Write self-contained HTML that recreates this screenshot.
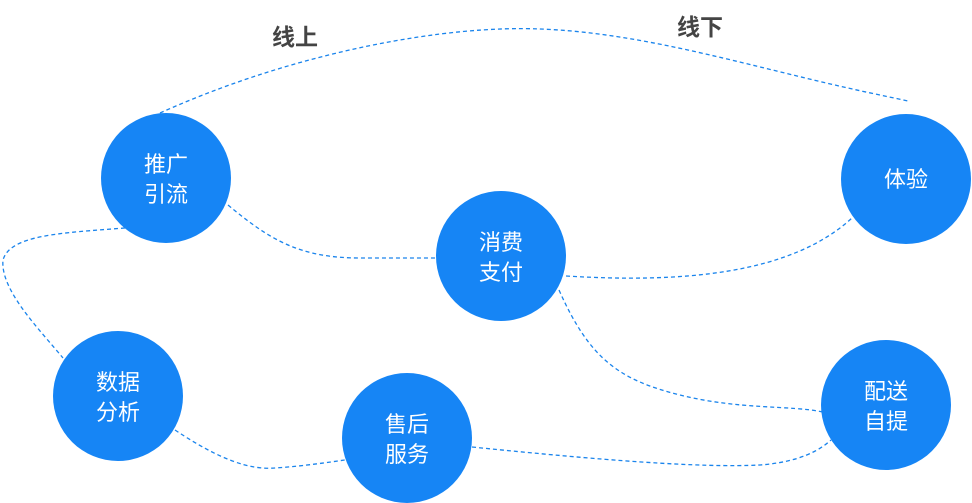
<!DOCTYPE html>
<html><head><meta charset="utf-8"><style>
html,body{margin:0;padding:0;background:#fff;}
body{width:972px;height:503px;overflow:hidden;position:relative;font-family:"Liberation Sans","Noto Sans CJK SC",sans-serif;}
svg{position:absolute;left:0;top:0;}
</style></head><body>
<svg width="972" height="503" viewBox="0 0 972 503">
<g fill="none" stroke="#1a84ec" stroke-width="1.3" stroke-dasharray="4,3">
<path d="M160,113 C300,50 450,25 540,29 C650,33 760,70 880,95 L908,101"/>
<path d="M228,205 C270,240 300,258 360,258 L436,258"/>
<path d="M566,276 C680,283 790,275 852,218"/>
<path d="M125,228 C60,233 10,235 3,260 C0,290 40,330 63,358"/>
<path d="M175,430 C220,460 250,470 275,468 C305,466 330,462 345,460"/>
<path d="M472,447 C600,460 700,468 760,465 C800,462 820,450 831,440"/>
<path d="M559,290 C590,360 620,380 680,395 C740,410 790,405 823,412"/>
</g>
<g fill="#1685f5">
<circle cx="166" cy="178" r="65"/>
<circle cx="501" cy="256" r="65"/>
<circle cx="906" cy="179" r="65"/>
<circle cx="118" cy="396" r="65"/>
<circle cx="407" cy="438" r="65"/>
<circle cx="886" cy="405" r="65"/>
</g>
<g font-family="Liberation Sans, Noto Sans CJK SC, sans-serif" font-size="22" fill="#fff" text-anchor="middle">
<text x="166" y="172">推广</text><text x="166" y="202">引流</text>
<text x="501" y="250">消费</text><text x="501" y="280">支付</text>
<text x="906" y="187">体验</text>
<text x="118" y="390">数据</text><text x="118" y="420">分析</text>
<text x="407" y="432">售后</text><text x="407" y="462">服务</text>
<text x="886" y="399">配送</text><text x="886" y="429">自提</text>
</g>
<g font-family="Liberation Sans, Noto Sans CJK SC, sans-serif" font-size="23" font-weight="bold" fill="#444" text-anchor="middle">
<text x="295" y="45">线上</text>
<text x="700" y="35">线下</text>
</g>
</svg>
</body></html>
